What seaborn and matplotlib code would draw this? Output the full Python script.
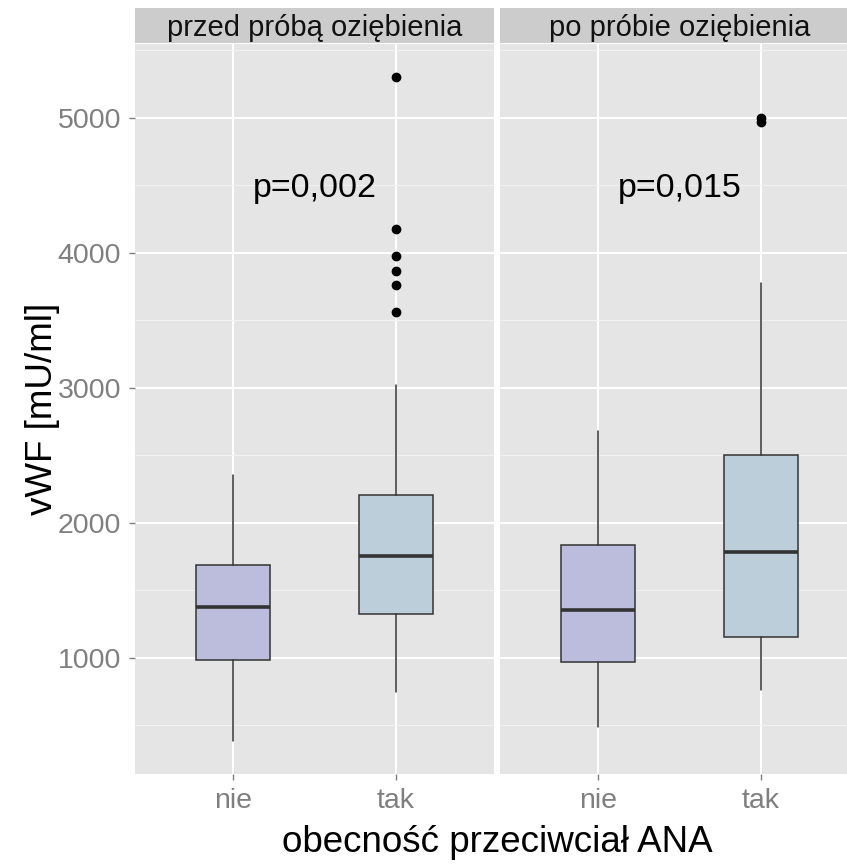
import numpy as np
import pandas as pd
import matplotlib
matplotlib.use("Agg")
import matplotlib.pyplot as plt
import seaborn as sns

# ---- data ----
panels = ["przed próbą oziębienia", "po próbie oziębienia"]
categories = ["nie", "tak"]
whislo = [[385, 750], [487, 758]]
q1 = [[983, 1321], [972, 1156]]
med = [[1378, 1756], [1356, 1783]]
q3 = [[1684, 2207], [1832, 2499]]
whishi = [[2356, 3022], [2681, 3778]]
outliers = [[[], [3561, 3763, 3867, 3980, 4173, 5301]],
            [[], [4970, 5000]]]
p_labels = ["p=0,002", "p=0,015"]
p_y = [4480, 4480]
yticks = [1000, 2000, 3000, 4000, 5000]

fills = ["#BCBDDC", "#BDCEDB"]
edge = "#333333"

sns.set_theme(style="darkgrid")
plt.rcParams["font.family"] = ["Liberation Sans", "DejaVu Sans"]

W, H = 847, 865
fig = plt.figure(figsize=(W / 100, H / 100), dpi=100)

def fx(px):
    return px / W

def fy(py):
    return 1 - py / H

panel_top, panel_bot = 44, 774
strip_top, strip_bot = 8, 43
lefts = [135, 500]
pw = 359

allvals = []
for i in range(2):
    for j in range(2):
        allvals += [whislo[i][j], whishi[i][j]] + outliers[i][j]
vmin, vmax = min(allvals), max(allvals)
pad = 0.05 * (vmax - vmin)
ylim = (vmin - pad, vmax + pad)

for i, name in enumerate(panels):
    ax = fig.add_axes([fx(lefts[i]), fy(panel_bot), pw / W, (panel_bot - panel_top) / H])
    ax.set_facecolor("#E5E5E5")
    for s in ax.spines.values():
        s.set_visible(False)
    stats = []
    for j, c in enumerate(categories):
        stats.append(dict(label=c, whislo=whislo[i][j], q1=q1[i][j], med=med[i][j],
                          q3=q3[i][j], whishi=whishi[i][j], fliers=outliers[i][j]))
    bp = ax.bxp(stats, positions=[1, 2], widths=0.45, patch_artist=True,
                showcaps=False, manage_ticks=False,
                boxprops=dict(edgecolor=edge, linewidth=1.1),
                whiskerprops=dict(color=edge, linewidth=1.1),
                medianprops=dict(color=edge, linewidth=2.6, solid_capstyle="butt"),
                flierprops=dict(marker="o", markersize=6, markerfacecolor="black",
                                markeredgecolor="black", linestyle="none"))
    for patch, fc in zip(bp["boxes"], fills):
        patch.set_facecolor(fc)
    for art in bp["boxes"] + bp["whiskers"] + bp["medians"] + bp["fliers"]:
        art.set_zorder(3)
    ax.set_xlim(0.4, 2.6)
    ax.set_ylim(*ylim)
    ax.set_xticks([1, 2])
    ax.set_xticklabels(categories)
    ax.set_yticks(yticks)
    ax.set_yticks([500, 1500, 2500, 3500, 4500, 5500], minor=True)
    ax.grid(which="major", color="white", linewidth=1.4)
    ax.grid(which="minor", color="#F2F2F2", linewidth=0.7)
    ax.set_axisbelow(True)
    ax.tick_params(axis="both", which="major", length=4, width=1, color="#7F7F7F",
                   labelcolor="#7F7F7F", labelsize=20.5, pad=6, bottom=True, left=True)
    ax.tick_params(axis="both", which="minor", length=0)
    if i == 0:
        ax.set_yticklabels([str(t) for t in yticks])
    else:
        ax.tick_params(axis="y", left=False, labelleft=False)
    ax.set_xlabel("")
    ax.set_ylabel("")
    ax.text(1.5, p_y[i], p_labels[i], ha="center", va="center", fontsize=24.5, color="black",
            zorder=4)

    sax = fig.add_axes([fx(lefts[i]), fy(strip_bot), pw / W, (strip_bot - strip_top) / H])
    sax.set_facecolor("#CCCCCC")
    sax.set_xticks([])
    sax.set_yticks([])
    for s in sax.spines.values():
        s.set_visible(False)
    sax.grid(False)
    sax.text(0.5, 0.42, name, ha="center", va="center", fontsize=21, color="#111111",
             transform=sax.transAxes)

fig.text(fx(42), fy(409), "vWF [mU/ml]", rotation=90, ha="center", va="center",
         fontsize=26.5, color="black")
fig.text(fx(497), fy(843), "obecność przeciwciał ANA", ha="center", va="center",
         fontsize=26.5, color="black")

fig.savefig("out.png", dpi=100, facecolor="white")
